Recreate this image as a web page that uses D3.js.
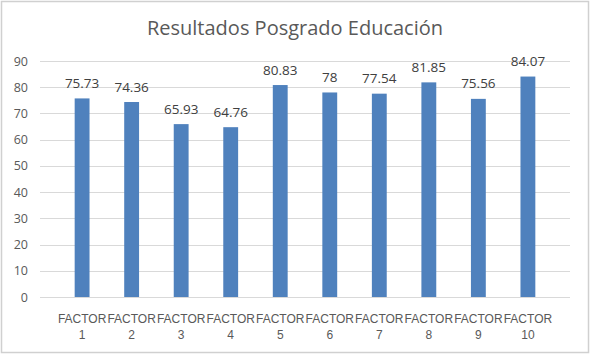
<!DOCTYPE html>
<html>
<head>
<meta charset="utf-8">
<script src="https://cdn.jsdelivr.net/npm/d3@7"></script>
<style>
  body { margin: 0; background: #fff; }
  svg { display: block; font-family: "Open Sans", sans-serif; }
</style>
</head>
<body>
<svg id="chart"></svg>
<script>
const categories = ["FACTOR 1", "FACTOR 2", "FACTOR 3", "FACTOR 4", "FACTOR 5",
  "FACTOR 6", "FACTOR 7", "FACTOR 8", "FACTOR 9", "FACTOR 10"]
const values = [75.73, 74.36, 65.93, 64.76, 80.83, 78, 77.54, 81.85, 75.56, 84.07]
const valueLabels = ["75.73", "74.36", "65.93", "64.76", "80.83", "78", "77.54", "81.85", "75.56", "84.07"]
const yTicks = [0, 10, 20, 30, 40, 50, 60, 70, 80, 90]
const title = "Resultados Posgrado Educación"

const w = 590
const h = 354
const margin = { top: 61, right: 20, bottom: 57, left: 40 }

const svg = d3.select('#chart')
  .attr('width', w)
  .attr('height', h)

// outer frame
svg.append('rect')
  .attr('x', 1.5).attr('y', 1.5)
  .attr('width', w - 3).attr('height', h - 3)
  .attr('fill', '#fff')
  .attr('stroke', '#d0d0d0')
  .attr('stroke-width', 1.5)

svg.append('text')
  .attr('x', w / 2)
  .attr('y', 35)
  .attr('text-anchor', 'middle')
  .attr('fill', '#595959')
  .style('font-size', '20px')
  .text(title)

// scaling
const xScale = d3.scaleBand()
  .domain(categories)
  .range([margin.left, w - margin.right])
  .padding(0.7)

const yScale = d3.scaleLinear()
  .domain([0, 90])
  .range([h - margin.bottom, margin.top])

// gridlines
svg.append('g')
  .selectAll('line')
  .data(yTicks)
  .join('line')
  .attr('x1', margin.left)
  .attr('x2', w - margin.right)
  .attr('y1', d => Math.round(yScale(d)) + 0.5)
  .attr('y2', d => Math.round(yScale(d)) + 0.5)
  .attr('stroke', '#d9d9d9')
  .attr('stroke-width', 1)

// y axis labels
const yAxis = d3.axisLeft(yScale)
  .tickValues(yTicks)
  .tickSize(0)
  .tickPadding(12)

svg.append('g')
  .attr('transform', `translate(${margin.left}, 0)`)
  .call(yAxis)
  .call(g => g.select('.domain').remove())
  .call(g => g.selectAll('text')
    .attr('fill', '#595959')
    .style('font-size', '12.5px')
    .style('font-family', '"Open Sans", sans-serif'))

// x axis labels (two lines)
const xAxis = d3.axisBottom(xScale).tickSize(0).tickFormat('')
const xg = svg.append('g')
  .attr('transform', `translate(0, ${h - margin.bottom})`)
  .call(xAxis)
xg.select('.domain').remove()
xg.selectAll('.tick').each(function (d) {
  const parts = d.split(' ')
  const t = d3.select(this).append('text')
    .attr('text-anchor', 'middle')
    .attr('fill', '#595959')
    .style('font-size', '12px')
  t.append('tspan').attr('x', 0).attr('y', 26).text(parts[0])
  t.append('tspan').attr('x', 0).attr('y', 42).text(parts[1])
})

// draw data
svg.selectAll('rect.bar')
  .data(values)
  .join('rect')
  .attr('class', 'bar')
  .attr('x', (d, i) => xScale(categories[i]))
  .attr('y', d => yScale(d))
  .attr('width', xScale.bandwidth())
  .attr('height', d => yScale(0) - yScale(d))
  .attr('fill', '#4F81BD')

svg.selectAll('text.val')
  .data(values)
  .join('text')
  .attr('class', 'val')
  .attr('x', (d, i) => xScale(categories[i]) + xScale.bandwidth() / 2)
  .attr('y', d => yScale(d) - 10.5)
  .attr('text-anchor', 'middle')
  .attr('fill', '#404040')
  .style('font-size', '13.5px')
  .text((d, i) => valueLabels[i])
</script>
</body>
</html>
